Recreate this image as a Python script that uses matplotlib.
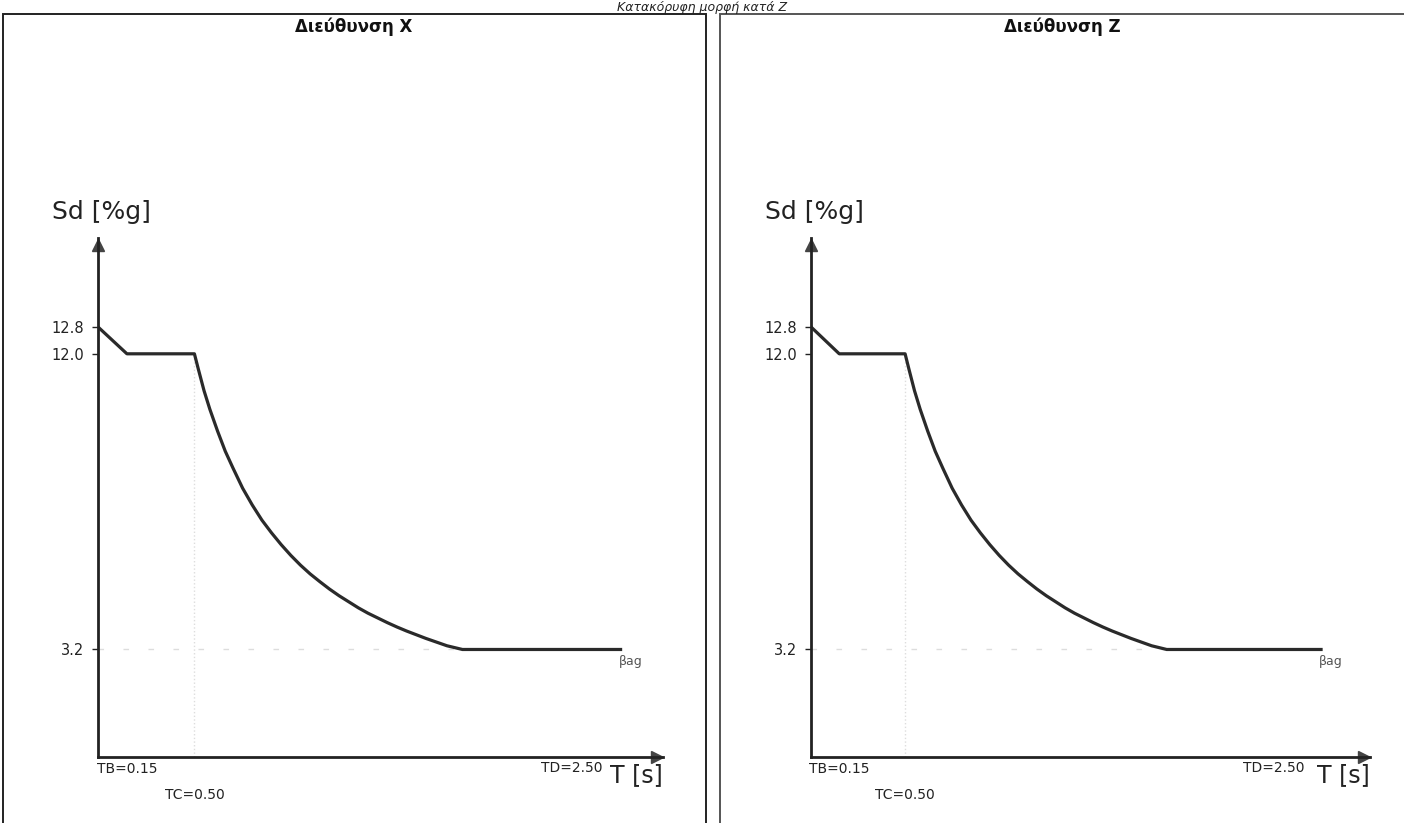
import matplotlib
matplotlib.use("Agg")
import matplotlib.pyplot as plt
from matplotlib.patches import Rectangle

plt.rcParams['font.family'] = ['DejaVu Sans']

# --- values (design spectrum, both directions) ---
panel_titles = ['Διεύθυνση X', 'Διεύθυνση Z']
period_s = [0.0, 0.15, 0.50, 0.52, 0.55, 0.58, 0.62, 0.66, 0.70, 0.75, 0.80,
            0.85, 0.90, 0.95, 1.00, 1.05, 1.10, 1.15, 1.20, 1.25, 1.30, 1.35,
            1.40, 1.45, 1.50, 1.55, 1.60, 1.65, 1.70, 1.75, 1.81, 1.89, 2.71]
sd_pct_g = [12.8, 12.0, 12.0, 11.55, 10.9, 10.35, 9.7, 9.1, 8.6, 8.0, 7.5,
            7.05, 6.67, 6.32, 6.0, 5.71, 5.45, 5.22, 5.0, 4.8, 4.62, 4.44,
            4.28, 4.14, 4.0, 3.87, 3.75, 3.64, 3.53, 3.43, 3.31, 3.2, 3.2]
sd_ticks = [3.2, 12.0, 12.8]
sd_tick_labels = ['3.2', '12.0', '12.8']
tb, tc, td = 0.15, 0.50, 2.50
beta_ag = 3.2

W, H = 1404, 823
fig = plt.figure(figsize=(W / 100, H / 100), dpi=100)

def px_rect(x0, y0, x1, y1):
    # pixel box (top-left origin) -> figure fraction [l, b, w, h]
    return [x0 / W, 1 - y1 / H, (x1 - x0) / W, (y1 - y0) / H]

# panel frames
fig.patches.append(Rectangle((3 / W, -0.05), 703 / W, 1.05 - 14 / H,
                             transform=fig.transFigure, fill=False,
                             ec='#222222', lw=1.4))
fig.patches.append(Rectangle((720 / W, -0.05), 700 / W, 1.05 - 14 / H,
                             transform=fig.transFigure, fill=False,
                             ec='#555555', lw=1.4))

# heading above the frames
fig.text(0.5, 1 - 1 / H, 'Κατακόρυφη μορφή κατά Ζ', ha='center', va='top',
         fontsize=9, style='italic', color='#222222')

# axes origin / tip positions in pixels for each panel
layout = [
    dict(x0=98, x1=663, title_x=354, xmax=2.93),
    dict(x0=811, x1=1370, title_x=1062, xmax=2.97),
]
y_zero, y_top = 757, 238
ymax = (y_zero - y_top) / 33.6

for title, lay in zip(panel_titles, layout):
    fig.text(lay['title_x'] / W, 1 - 27 / H, title, ha='center', va='center',
             fontsize=12, fontweight='bold', color='#111111')

    ax = fig.add_axes(px_rect(lay['x0'], y_top, lay['x1'], y_zero))
    ax.set_xlim(0, lay['xmax'])
    ax.set_ylim(0, ymax)
    ax.patch.set_alpha(0)
    for s in ['top', 'right']:
        ax.spines[s].set_visible(False)
    for s in ['left', 'bottom']:
        ax.spines[s].set_linewidth(2.0)
        ax.spines[s].set_color('#222222')

    # arrow heads on the axes
    ax.plot(lay['xmax'] - 0.03, 0, marker='>', ms=9, color='#444444',
            clip_on=False)
    ax.plot(0, ymax - 0.2, marker='^', ms=8, color='#444444', clip_on=False)

    # faint guide lines
    ax.plot([tc, tc], [0, 12.0], ls=':', color='#dddddd', lw=1)
    ax.plot([0, 1.88], [beta_ag, beta_ag], ls=(0, (4, 14)), color='#dddddd',
            lw=1)

    ax.plot(period_s, sd_pct_g, color='#2a2a2a', lw=2.3,
            solid_joinstyle='round')

    ax.set_xticks([])
    ax.set_yticks(sd_ticks)
    ax.set_yticklabels(sd_tick_labels)
    ax.tick_params(axis='y', direction='out', length=4, width=1,
                   labelsize=10.5, colors='#222222', pad=6)

    ax.annotate('Sd [%g]', xy=(0, ymax), xytext=(3, 26),
                textcoords='offset pixels', ha='center', va='center',
                fontsize=18, color='#222222', annotation_clip=False)
    ax.annotate('T [s]', xy=(lay['xmax'], 0), xytext=(-53, -18),
                textcoords='offset pixels', ha='left', va='center',
                fontsize=17, color='#222222', annotation_clip=False)
    ax.annotate('TB=%.2f' % tb, xy=(tb, 0), xytext=(0, -12),
                textcoords='offset pixels', ha='center', va='center',
                fontsize=10, color='#222222', annotation_clip=False)
    ax.annotate('TC=%.2f' % tc, xy=(tc, 0), xytext=(0, -38),
                textcoords='offset pixels', ha='center', va='center',
                fontsize=10, color='#222222', annotation_clip=False)
    ax.annotate('TD=%.2f' % td, xy=(td, 0), xytext=(-8, -11),
                textcoords='offset pixels', ha='center', va='center',
                fontsize=10, color='#222222', annotation_clip=False)
    ax.annotate('βag', xy=(period_s[-1], beta_ag), xytext=(-2, -12),
                textcoords='offset pixels', ha='left', va='center',
                fontsize=9, color='#555555', annotation_clip=False)

fig.savefig('out.png', dpi=100)
